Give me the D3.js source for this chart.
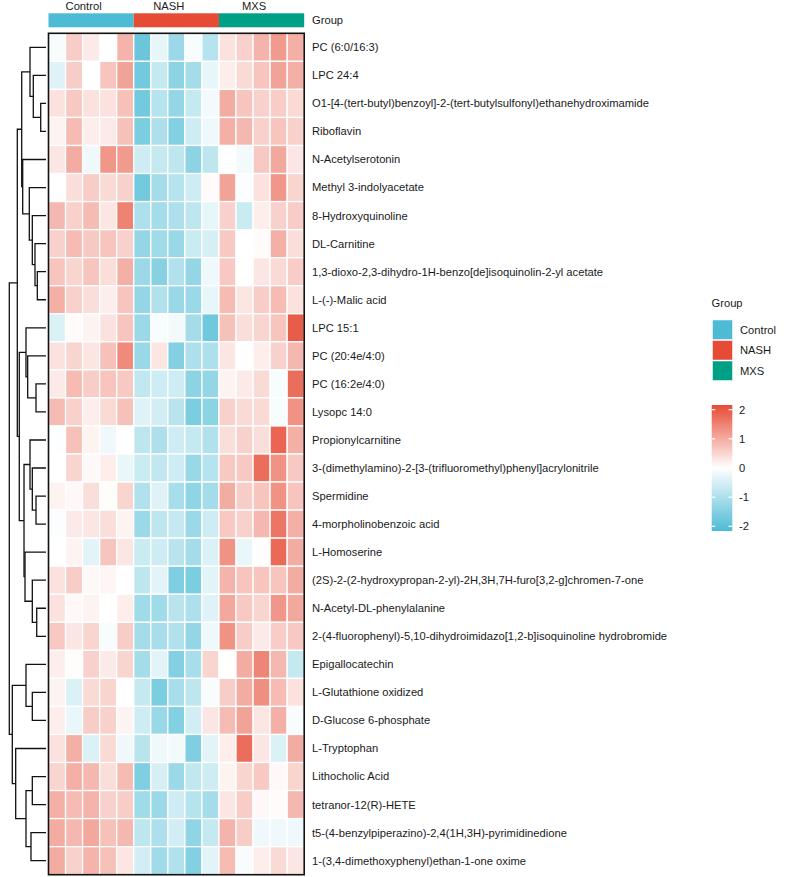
<!DOCTYPE html>
<html><head><meta charset="utf-8">
<script src="https://cdn.jsdelivr.net/npm/d3@7"></script>
<style>
body{margin:0;background:#fff}
text{font-family:"Liberation Sans",Arial,sans-serif;font-size:11.2px;fill:#1a1a1a}
</style>
</head><body>
<svg id="chart" width="793" height="877"></svg>
<script>
const metabolites = [
  "PC (6:0/16:3)", "LPC 24:4",
  "O1-[4-(tert-butyl)benzoyl]-2-(tert-butylsulfonyl)ethanehydroximamide",
  "Riboflavin", "N-Acetylserotonin", "Methyl 3-indolyacetate", "8-Hydroxyquinoline",
  "DL-Carnitine", "1,3-dioxo-2,3-dihydro-1H-benzo[de]isoquinolin-2-yl acetate",
  "L-(-)-Malic acid", "LPC 15:1", "PC (20:4e/4:0)", "PC (16:2e/4:0)", "Lysopc 14:0",
  "Propionylcarnitine", "3-(dimethylamino)-2-[3-(trifluoromethyl)phenyl]acrylonitrile",
  "Spermidine", "4-morpholinobenzoic acid", "L-Homoserine",
  "(2S)-2-(2-hydroxypropan-2-yl)-2H,3H,7H-furo[3,2-g]chromen-7-one",
  "N-Acetyl-DL-phenylalanine",
  "2-(4-fluorophenyl)-5,10-dihydroimidazo[1,2-b]isoquinoline hydrobromide",
  "Epigallocatechin", "L-Glutathione oxidized", "D-Glucose 6-phosphate", "L-Tryptophan",
  "Lithocholic Acid", "tetranor-12(R)-HETE",
  "t5-(4-benzylpiperazino)-2,4(1H,3H)-pyrimidinedione",
  "1-(3,4-dimethoxyphenyl)ethan-1-one oxime"
];
const groups = ["Control", "NASH", "MXS"];
const groupColors = ["#4DBBD5", "#E64B35", "#00A087"];
const samples = ["C1","C2","C3","C4","C5","N1","N2","N3","N4","N5","M1","M2","M3","M4","M5"];
const sampleGroup = ["Control","Control","Control","Control","Control",
  "NASH","NASH","NASH","NASH","NASH","MXS","MXS","MXS","MXS","MXS"];
const colorStops = ["#4DBBD5", "#FFFFFF", "#E64B35"];
const colorDomain = [-2.16, 0, 2.16];
const legendTicks = [2, 1, 0, -1, -2];

// z-scores, rows = metabolites, columns = samples
const values = [
  [-0.1,0.6,0.25,0.0,0.9,-1.8,-0.3,-1.2,-0.1,-0.9,0.35,0.55,0.9,1.2,0.95],
  [-0.4,0.6,0.0,0.7,1.1,-1.7,-0.7,-1.4,-1.1,-0.3,0.2,0.45,0.7,1.1,0.95],
  [0.35,0.65,0.35,0.35,0.75,-1.7,-0.9,-1.3,-0.7,-0.15,1.0,0.7,0.55,0.6,0.45],
  [0.15,0.8,0.2,0.25,0.75,-1.6,-1.0,-1.5,-0.6,-0.2,0.95,0.85,0.55,0.7,0.55],
  [0.3,1.0,-0.2,1.25,1.2,-0.6,-0.7,-0.8,-1.4,-0.8,0.0,-0.15,0.65,1.05,0.3],
  [0.0,0.4,0.6,0.45,0.55,-1.7,-1.1,-0.9,-0.6,0.05,1.1,-0.05,0.35,1.25,0.5],
  [0.85,0.55,0.8,0.3,1.5,-1.0,-1.1,-1.0,-0.8,-0.3,0.55,-0.65,0.2,0.55,0.6],
  [0.55,0.8,0.65,0.7,0.55,-1.3,-1.15,-1.25,-0.65,-0.5,0.65,0.0,0.05,0.95,0.4],
  [0.7,0.5,0.7,0.4,0.95,-1.2,-1.45,-0.95,-1.3,-0.2,0.65,0.0,0.3,0.45,0.6],
  [0.95,0.55,0.4,0.2,0.7,-1.3,-0.95,-1.25,-1.2,-0.3,0.8,0.3,0.6,0.8,0.35],
  [-0.45,0.05,0.15,0.35,0.7,-1.2,-0.1,-0.15,-1.1,-1.75,0.75,0.4,0.5,0.7,1.95],
  [0.35,0.5,0.3,0.75,1.4,-1.25,0.3,-1.5,-1.0,-1.0,0.3,0.0,0.2,0.55,0.85],
  [0.25,0.8,0.6,0.7,0.65,-0.75,-0.6,-0.6,-1.4,-1.3,0.15,0.25,0.45,-0.1,1.75],
  [0.8,0.55,0.2,0.45,0.75,-0.4,-0.55,-0.85,-1.6,-1.4,0.55,0.45,0.45,-0.1,1.3],
  [-0.02,0.75,0.15,-0.2,0.0,-0.8,-1.0,-0.6,-0.7,-0.95,0.4,0.55,0.4,1.85,0.95],
  [0.0,0.5,0.08,0.2,-0.25,-0.65,-0.75,-0.6,-1.25,-0.9,0.65,0.65,1.75,1.3,0.65],
  [0.15,0.07,0.4,0.03,0.5,-0.95,-0.4,-1.05,-1.35,-1.1,1.0,0.6,0.7,1.3,0.7],
  [-0.05,0.25,0.3,0.4,0.15,-1.2,-0.8,-0.7,-1.2,-0.6,0.65,0.55,0.85,1.65,0.95],
  [0.0,0.15,-0.35,0.7,0.3,-0.65,-0.6,-0.85,-1.1,-0.45,1.3,-0.25,0.02,1.8,1.0],
  [0.35,0.6,0.07,0.12,0.0,-0.8,-0.35,-1.55,-1.6,-0.35,0.9,0.7,0.7,0.7,1.0],
  [0.35,0.07,0.15,0.0,0.2,-1.15,-1.15,-0.85,-1.0,-0.4,1.05,0.65,0.5,1.25,1.05],
  [0.65,0.3,0.5,-0.1,0.6,-1.1,-1.05,-0.95,-1.3,-0.2,1.3,0.6,0.25,0.6,0.65],
  [0.2,0.03,0.55,0.25,0.5,-1.1,-0.35,-1.5,-1.05,0.5,0.0,1.0,1.45,0.85,-0.7],
  [0.15,-0.45,0.45,0.5,0.0,-0.7,-1.6,-1.05,-0.8,-0.08,0.6,1.0,1.35,0.8,0.35],
  [0.2,-0.25,0.6,0.55,0.15,-0.6,-1.25,-1.5,-0.55,0.3,0.8,1.1,0.3,0.95,-0.08],
  [0.35,0.95,-0.45,0.45,-0.2,-0.85,-0.2,-0.15,-1.55,-0.35,0.2,1.75,0.3,-0.45,1.0],
  [0.5,0.95,0.85,0.4,0.8,-1.55,-0.5,-1.2,-0.75,-0.6,0.15,0.5,0.65,0.07,0.5],
  [0.95,0.8,0.9,0.55,0.6,-1.15,-1.2,-0.6,-0.9,-1.1,0.3,0.6,0.07,0.05,0.85],
  [1.0,0.85,1.05,0.75,0.85,-0.8,-1.0,-0.55,-1.35,-0.7,0.9,0.6,-0.2,-0.2,-0.2],
  [1.0,0.55,0.9,0.75,0.3,-0.55,-1.15,-0.95,-1.5,-0.35,0.8,-0.08,0.2,0.45,0.3]
];

// row clustering, hclust style: negative = leaf row -(i+1), positive = earlier merge (1-based)
const merges = [
  [-3,-4,1.44], [-2,1,3.46], [-1,2,4.36], [-9,-10,2.37], [-8,4,3.0],
  [-7,5,3.73], [-6,6,4.55], [-5,7,6.35], [3,8,6.62], [-13,-14,2.72],
  [-12,10,4.99], [-11,11,5.45], [-17,-18,2.72], [-16,13,3.73], [-15,14,4.36],
  [-21,-22,2.53], [-20,16,3.73], [-19,17,5.72], [15,18,5.99], [12,19,7.28],
  [9,20,7.82], [-24,-25,3.73], [-23,22,5.45], [-27,-28,3.73], [-29,-30,4.09],
  [24,25,5.45], [-26,26,8.26], [23,27,9.18], [21,28,10.0]
];

const svg = d3.select("#chart");
const hm = {x0: 48.5, x1: 304.2, y0: 33.3, y1: 874.7};

const xS = d3.scaleBand().domain(samples).range([hm.x0, hm.x1]);
const yS = d3.scaleBand().domain(metabolites).range([hm.y0, hm.y1]);
const color = d3.scaleLinear().domain(colorDomain).range(colorStops).clamp(true);

// cells
const cells = [];
values.forEach((row, i) => row.forEach((v, j) => cells.push({m: metabolites[i], s: samples[j], v})));
svg.append("g").selectAll("rect").data(cells).join("rect")
  .attr("x", d => xS(d.s)).attr("y", d => yS(d.m))
  .attr("width", xS.bandwidth()).attr("height", yS.bandwidth())
  .attr("fill", d => color(d.v))
  .attr("stroke", "#fff").attr("stroke-width", 1.3);

// border
svg.append("rect").attr("x", hm.x0).attr("y", hm.y0)
  .attr("width", hm.x1 - hm.x0).attr("height", hm.y1 - hm.y0)
  .attr("fill", "none").attr("stroke", "#111").attr("stroke-width", 1.6);

// top annotation, one block per group
const gColor = d3.scaleOrdinal().domain(groups).range(groupColors);
const groupSpans = groups.map(g => {
  const idx = sampleGroup.map((s, j) => s === g ? j : -1).filter(j => j >= 0);
  return {g, left: xS(samples[idx[0]]), right: xS(samples[idx[idx.length - 1]]) + xS.bandwidth()};
});
svg.append("g").selectAll("rect").data(groupSpans).join("rect")
  .attr("x", d => d.left).attr("y", 13.3)
  .attr("width", d => d.right - d.left).attr("height", 14)
  .attr("fill", d => gColor(d.g));
svg.append("text").attr("x", 312).attr("y", 20.3).attr("dy", "0.35em").text("Group");

// group names above bar
svg.append("g").selectAll("text").data(groupSpans).join("text")
  .attr("x", d => (d.left + d.right) / 2 - xS.bandwidth() / 2 + 1)
  .attr("y", 9.5).attr("text-anchor", "middle").text(d => d.g);

// row labels
svg.append("g").selectAll("text").data(metabolites).join("text")
  .attr("x", 312).attr("y", d => yS(d) + yS.bandwidth() / 2)
  .attr("dy", "0.35em").text(d => d);

// dendrogram
const hX = d3.scaleLinear().domain([0, d3.max(merges, m => m[2])]).range([46, 9.3]);
const nodes = [];
function pos(ref) {
  if (ref < 0) { const m = metabolites[-ref - 1]; return {y: yS(m) + yS.bandwidth() / 2, h: 0}; }
  return nodes[ref - 1];
}
const dPaths = [];
merges.forEach(([a, b, h]) => {
  const A = pos(a), B = pos(b);
  nodes.push({y: (A.y + B.y) / 2, h});
  dPaths.push(`M${hX(A.h)},${A.y}H${hX(h)}V${B.y}H${hX(B.h)}`);
});
svg.append("g").selectAll("path").data(dPaths).join("path")
  .attr("d", d => d).attr("fill", "none").attr("stroke", "#111").attr("stroke-width", 1.3);

// legend: group
const lg = svg.append("g");
lg.append("text").attr("x", 711.5).attr("y", 303.5).attr("dy", "0.35em").text("Group");
groups.forEach((g, k) => {
  lg.append("rect").attr("x", 712.5).attr("y", 320 + k * 20.5).attr("width", 20).attr("height", 19.5)
    .attr("fill", groupColors[k]).attr("stroke", "#fff").attr("stroke-width", 0.5);
  lg.append("text").attr("x", 740).attr("y", 330 + k * 20.5).attr("dy", "0.35em").text(g);
});

// legend: colour bar
const barY = d3.scaleLinear().domain([colorDomain[0], colorDomain[2]]).range([531, 405]);
const grad = svg.append("defs").append("linearGradient").attr("id", "cbar")
  .attr("x1", 0).attr("y1", 1).attr("x2", 0).attr("y2", 0);
d3.range(0, 1.0001, 0.05).forEach(t => {
  const v = colorDomain[0] + t * (colorDomain[2] - colorDomain[0]);
  grad.append("stop").attr("offset", t).attr("stop-color", color(v));
});
lg.append("rect").attr("x", 711.7).attr("y", 405).attr("width", 20.6).attr("height", 126)
  .attr("fill", "url(#cbar)");
legendTicks.forEach(t => {
  const y = barY(t);
  lg.append("line").attr("x1", 711.7).attr("x2", 715.2).attr("y1", y).attr("y2", y)
    .attr("stroke", "#fff").attr("stroke-width", 1.2);
  lg.append("line").attr("x1", 728.5).attr("x2", 732.3).attr("y1", y).attr("y2", y)
    .attr("stroke", "#fff").attr("stroke-width", 1.2);
  lg.append("text").attr("x", 739).attr("y", y).attr("dy", "0.35em").text(t);
});
</script>
</body></html>
